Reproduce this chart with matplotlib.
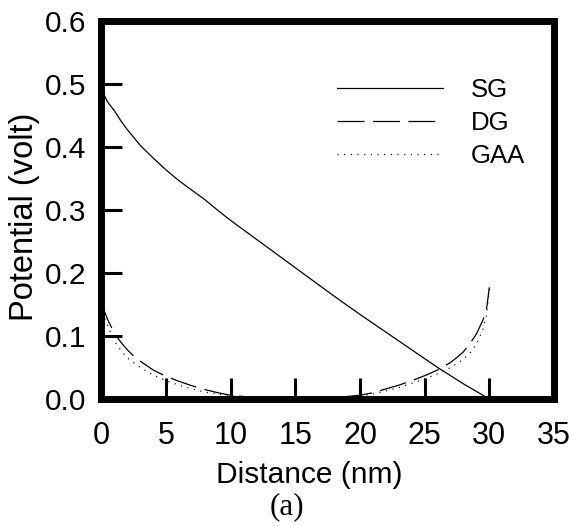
import matplotlib
matplotlib.use("Agg")
import matplotlib.pyplot as plt

plt.rcParams["lines.scale_dashes"] = False

# Distance along the channel (nm) and surface potential (V)
sg_x = [0, 0.25, 0.5, 1, 1.5, 2, 3, 4, 5, 6, 7, 8, 9, 10, 12, 14, 16, 18, 20, 22, 24, 26, 28, 30]
sg_y = [0.5, 0.480, 0.470, 0.457, 0.441, 0.427, 0.402, 0.382, 0.363, 0.346, 0.331, 0.316,
        0.299, 0.283, 0.253, 0.223, 0.193, 0.163, 0.134, 0.106, 0.078, 0.050, 0.024, 0.0]

dg_x = [0, 0.25, 0.5, 1, 1.5, 2, 2.5, 3, 4, 5, 6, 7, 8, 9, 10, 12, 14, 16, 18, 20, 21, 22,
        23, 24, 25, 26, 27, 27.5, 28, 28.5, 29, 29.5, 29.8, 30]
dg_y = [0.152, 0.138, 0.125, 0.104, 0.090, 0.078, 0.068, 0.060, 0.046, 0.036, 0.028, 0.021,
        0.015, 0.010, 0.006, 0.002, 0.001, 0.001, 0.002, 0.006, 0.010, 0.016, 0.022, 0.029,
        0.037, 0.046, 0.058, 0.066, 0.075, 0.088, 0.103, 0.125, 0.145, 0.177]

gaa_x = [0, 0.25, 0.5, 1, 1.5, 2, 3, 4, 5, 6, 7, 8, 9, 10, 12, 14, 16, 18, 20, 21, 22, 23,
         24, 25, 26, 27, 28, 28.5, 29, 29.5, 29.8, 30]
gaa_y = [0.148, 0.129, 0.115, 0.092, 0.077, 0.065, 0.050, 0.038, 0.029, 0.022, 0.016, 0.011,
         0.008, 0.005, 0.002, 0.001, 0.001, 0.002, 0.005, 0.008, 0.013, 0.018, 0.025, 0.032,
         0.040, 0.050, 0.063, 0.073, 0.087, 0.110, 0.135, 0.175]

x_ticks = [0, 5, 10, 15, 20, 25, 30, 35]
y_ticks = [0.0, 0.1, 0.2, 0.3, 0.4, 0.5, 0.6]
y_tick_labels = ["0.0", "0.1", "0.2", "0.3", "0.4", "0.5", "0.6"]

sans = "Liberation Sans"
serif = "Liberation Serif"

fig = plt.figure(figsize=(5.73, 5.26), dpi=100)
ax = fig.add_axes([0.1771, 0.2414, 0.7897, 0.7196])

ax.plot(sg_x, sg_y, color="black", lw=0.9, label="SG")
ax.plot(dg_x, dg_y, color="black", lw=0.9, dashes=(19.4, 6.1), label="DG")
ax.plot(gaa_x, gaa_y, color="black", lw=0.9, dashes=(0.8, 4.0), label="GAA")

ax.set_xlim(0, 35)
ax.set_ylim(0, 0.6)
ax.set_xticks(x_ticks)
ax.set_xticklabels([str(t) for t in x_ticks], family=sans, fontsize=22)
ax.set_yticks(y_ticks)
ax.set_yticklabels(y_tick_labels, family=sans, fontsize=21.5)
ax.tick_params(direction="in", length=15, width=2.2, top=False, right=False,
               color="black")
ax.tick_params(axis="x", pad=15.5)
ax.tick_params(axis="y", pad=11.2)

for sp in ax.spines.values():
    sp.set_linewidth(5)
    sp.set_color("black")

ax.set_xlabel("Distance (nm)", family=sans, fontsize=21.5, va="baseline")
ax.xaxis.set_label_coords(0.4586, -0.2227)
ax.set_ylabel("Potential (volt)", family=sans, fontsize=23.5, va="baseline")
ax.yaxis.set_label_coords(-0.151, 0.481)

ax.legend(loc="upper left", bbox_to_anchor=(0.52, 0.8483), frameon=False,
          borderpad=0, borderaxespad=0, handlelength=4.15, handletextpad=1.066,
          labelspacing=0.346, prop={"family": sans, "size": 18.5})

fig.text(0.5014, 0.0219, "(a)", family=serif, fontsize=22.4, ha="center", va="baseline")

fig.savefig("out.png", dpi=100)
